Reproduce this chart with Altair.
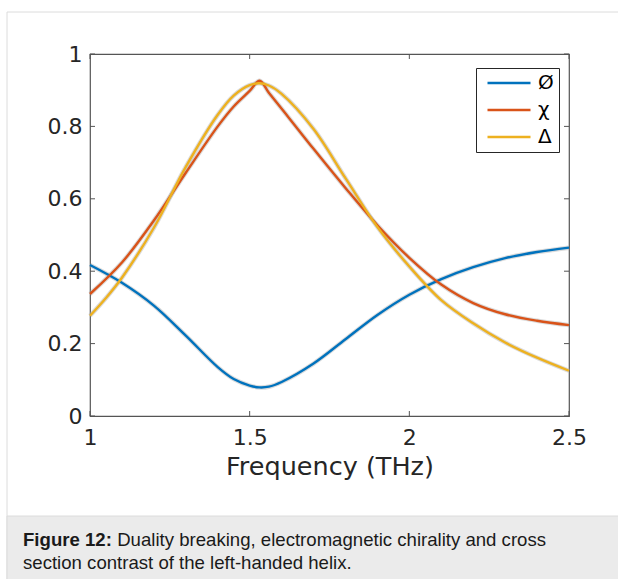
import altair as alt
import pandas as pd

# ---------------- data ----------------
series_names = ["Ø", "χ", "Δ"]
series_colors = ["#0072BD", "#D95319", "#EDB120"]

freq_phi = [1.00, 1.10, 1.20, 1.30, 1.40, 1.45, 1.50, 1.53, 1.56, 1.60,
            1.70, 1.80, 1.90, 2.00, 2.10, 2.20, 2.30, 2.40, 2.50]
val_phi = [0.417, 0.368, 0.305, 0.222, 0.135, 0.102, 0.084, 0.079, 0.081, 0.094,
           0.145, 0.212, 0.279, 0.335, 0.378, 0.411, 0.436, 0.453, 0.465]

freq_chi = [1.00, 1.10, 1.20, 1.30, 1.40, 1.45, 1.50, 1.531, 1.56, 1.62, 1.70, 1.80, 1.90,
            2.00, 2.10, 2.20, 2.30, 2.40, 2.50]
val_chi = [0.337, 0.424, 0.540, 0.672, 0.800, 0.855, 0.898, 0.926, 0.893, 0.827, 0.738, 0.630, 0.527,
           0.437, 0.363, 0.312, 0.281, 0.263, 0.251]

freq_delta = [1.00, 1.05, 1.10, 1.20, 1.30, 1.40, 1.45, 1.50, 1.53, 1.56, 1.60, 1.70, 1.80, 1.90,
              2.00, 2.10, 2.20, 2.30, 2.40, 2.50]
val_delta = [0.277, 0.326, 0.382, 0.520, 0.688, 0.832, 0.885, 0.914, 0.919, 0.913, 0.890, 0.793, 0.657, 0.522,
             0.413, 0.320, 0.256, 0.203, 0.161, 0.125]

x_ticks = [1.0, 1.5, 2.0, 2.5]
y_ticks = [0.0, 0.2, 0.4, 0.6, 0.8, 1.0]

x_title = "Frequency (THz)"
caption_bold = "Figure 12:"
caption_line1 = "Duality breaking, electromagnetic chirality and cross"
caption_line2 = "section contrast of the left-handed helix."

# ---------------- layout ----------------
W, H = 479, 362
PAD_L, PAD_T, PAD_R, PAD_B = 90, 54, 49, 163
CAP_FS = 18.6

rows = []
for name, fs, vs in zip(series_names, [freq_phi, freq_chi, freq_delta], [val_phi, val_chi, val_delta]):
    for f, v in zip(fs, vs):
        rows.append({"f": f, "v": v, "series": name})
df = pd.DataFrame(rows)

one = pd.DataFrame({"a": [0]})
xt_df = pd.DataFrame({"f": x_ticks})
yt_df = pd.DataFrame({"v": y_ticks})

xscale = alt.Scale(domain=[1, 2.5], nice=False, zero=False)
yscale = alt.Scale(domain=[0, 1], nice=False, zero=False)

x_axis = alt.Axis(values=x_ticks, format="~g", title=x_title, grid=False, ticks=False, domain=False,
                  labelFlush=False, labelOverlap=False,
                  labelFontSize=22, labelPadding=11, labelColor="#262626", labelFont="DejaVu Sans",
                  titleFontSize=25.5, titleFont="DejaVu Sans", titleFontWeight="normal",
                  titleColor="#262626", titlePadding=6)
y_axis = alt.Axis(values=y_ticks, format="~g", title="", grid=False, ticks=False, domain=False,
                  labelFlush=False, labelOverlap=False,
                  labelFontSize=22, labelPadding=8, labelColor="#262626", labelFont="DejaVu Sans")

X = alt.X("f:Q", scale=xscale, axis=x_axis, title=x_title)
Y = alt.Y("v:Q", scale=yscale, axis=y_axis, title="")

frame = alt.Chart(one).mark_rect(fill="transparent", stroke="#dcdcdc", strokeWidth=1).encode(
    x=alt.value(-83), x2=alt.value(560), y=alt.value(-42), y2=alt.value(560)
)
cap_box = alt.Chart(one).mark_rect(fill="#ebebeb", stroke="#dcdcdc", strokeWidth=1).encode(
    x=alt.value(-83), x2=alt.value(560), y=alt.value(462), y2=alt.value(560)
)
cap_font = "Liberation Sans"
bold_w = 81.0 / 16.0 * CAP_FS
cap1 = alt.Chart(one).mark_text(font=cap_font, fontSize=CAP_FS, fontWeight="bold", align="left",
                                baseline="alphabetic", color="#1a1a1a").encode(
    x=alt.value(-67), y=alt.value(492), text=alt.value(caption_bold))
cap2 = alt.Chart(one).mark_text(font=cap_font, fontSize=CAP_FS, align="left",
                                baseline="alphabetic", color="#1a1a1a").encode(
    x=alt.value(-67 + bold_w), y=alt.value(492), text=alt.value(caption_line1))
cap3 = alt.Chart(one).mark_text(font=cap_font, fontSize=CAP_FS, align="left",
                                baseline="alphabetic", color="#1a1a1a").encode(
    x=alt.value(-67), y=alt.value(515), text=alt.value(caption_line2))

halo = alt.Chart(df).mark_line(interpolate="catmull-rom", strokeWidth=4.5, color="#b0b0b0", opacity=0.45).encode(
    x=X, y=Y, detail="series:N",
)

lines = alt.Chart(df).mark_line(interpolate="catmull-rom", strokeWidth=2.4).encode(
    x=X, y=Y,
    color=alt.Color("series:N", sort=series_names,
                    scale=alt.Scale(domain=series_names, range=series_colors),
                    legend=alt.Legend(title="", orient="none", legendX=386, legendY=14,
                                      direction="vertical", symbolType="stroke", symbolSize=1849,
                                      symbolStrokeWidth=2.5, clipHeight=20, rowPadding=7,
                                      labelFontSize=20, labelFont="DejaVu Sans", labelColor="black",
                                      labelOffset=6, padding=5, symbolOffset=5,
                                      strokeColor="#262626", fillColor="white")),
)

tick_style = dict(color="#555555", strokeWidth=1)
xb = alt.Chart(xt_df).mark_rule(**tick_style).encode(x=X, y=alt.value(H), y2=alt.value(H - 5))
xtp = alt.Chart(xt_df).mark_rule(**tick_style).encode(x=X, y=alt.value(0), y2=alt.value(5))
yl = alt.Chart(yt_df).mark_rule(**tick_style).encode(y=Y, x=alt.value(0), x2=alt.value(5))
yr = alt.Chart(yt_df).mark_rule(**tick_style).encode(y=Y, x=alt.value(W), x2=alt.value(W - 5))

chart = alt.layer(frame, cap_box, cap1, cap2, cap3, halo, lines, xb, xtp, yl, yr).properties(
    width=W, height=H,
    autosize=alt.AutoSizeParams(type="none"),
    padding={"left": PAD_L, "top": PAD_T, "right": PAD_R, "bottom": PAD_B},
    background="white",
).configure_view(stroke="#555555", strokeWidth=1.2)

chart.save("out.html", embed_options={"renderer": "svg", "actions": False})
